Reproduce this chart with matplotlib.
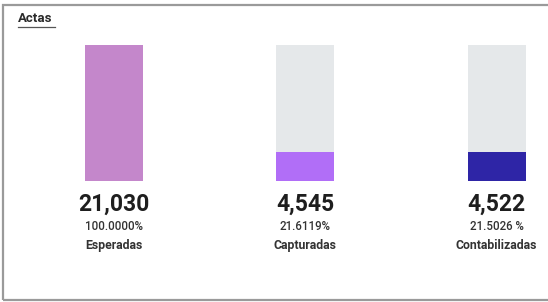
import matplotlib.pyplot as plt
from matplotlib.patches import Rectangle
from matplotlib.lines import Line2D

# Data
categories = ['Esperadas', 'Capturadas', 'Contabilizadas']
counts = [21030, 4545, 4522]
percent_labels = ['100.0000%', '21.6119%', '21.5026 %']
total = counts[0]

fill_colors = ['#c487cb', '#b16ef7', '#2e25a6']
track_color = '#e5e8ea'

W, H = 548, 302
fig = plt.figure(figsize=(W / 100, H / 100), dpi=100)
plt.rcParams['font.family'] = ['Roboto', 'DejaVu Sans']

# Outer card frame (right edge is cut off in the reference)
fig.patches.append(Rectangle((3 / W, 2 / H), 1.2, 1 - 7 / H, transform=fig.transFigure,
                             fill=False, edgecolor='#9a9a9a', linewidth=1.6))

# Title with underline
fig.text(18 / W, 1 - 19 / H, 'Actas', fontsize=9.5, fontweight='bold', color='#2a2a2a',
         va='center', ha='left')
fig.add_artist(Line2D([18 / W, 55 / W], [1 - 27 / H, 1 - 27 / H], transform=fig.transFigure,
                      color='#555555', linewidth=0.9))

# Axes placed so the bars span the pixel area seen in the reference
bar_top, bar_bottom = 45, 181
spacing = 191.5
first_center = 114
x_left = 18
ax = fig.add_axes([x_left / W, 1 - bar_bottom / H, (W - x_left) / W, (bar_bottom - bar_top) / H])
ax.set_xlim(-0.5, -0.5 + (W - x_left) / spacing)
ax.set_ylim(0, 100)
ax.axis('off')

bar_w = 58 / spacing
xs = list(range(len(categories)))
pcts = [c / total * 100 for c in counts]

ax.bar(xs, [100] * len(xs), width=bar_w, color=track_color)
ax.bar(xs, pcts, width=bar_w, color=fill_colors)

for x, c, p, name in zip(xs, counts, percent_labels, categories):
    ax.annotate(f'{c:,}', xy=(x, 0), xytext=(0, -16.5), textcoords='offset points',
                ha='center', va='center', fontsize=16.5, fontweight='bold', color='#1e1e1e')
    ax.annotate(p, xy=(x, 0), xytext=(0, -33), textcoords='offset points',
                ha='center', va='center', fontsize=8.3, fontweight='medium', color='#333333')
    ax.annotate(name, xy=(x, 0), xytext=(0, -46.5), textcoords='offset points',
                ha='center', va='center', fontsize=8.8, fontweight='bold', color='#333333')

fig.savefig('out.png', dpi=100)
